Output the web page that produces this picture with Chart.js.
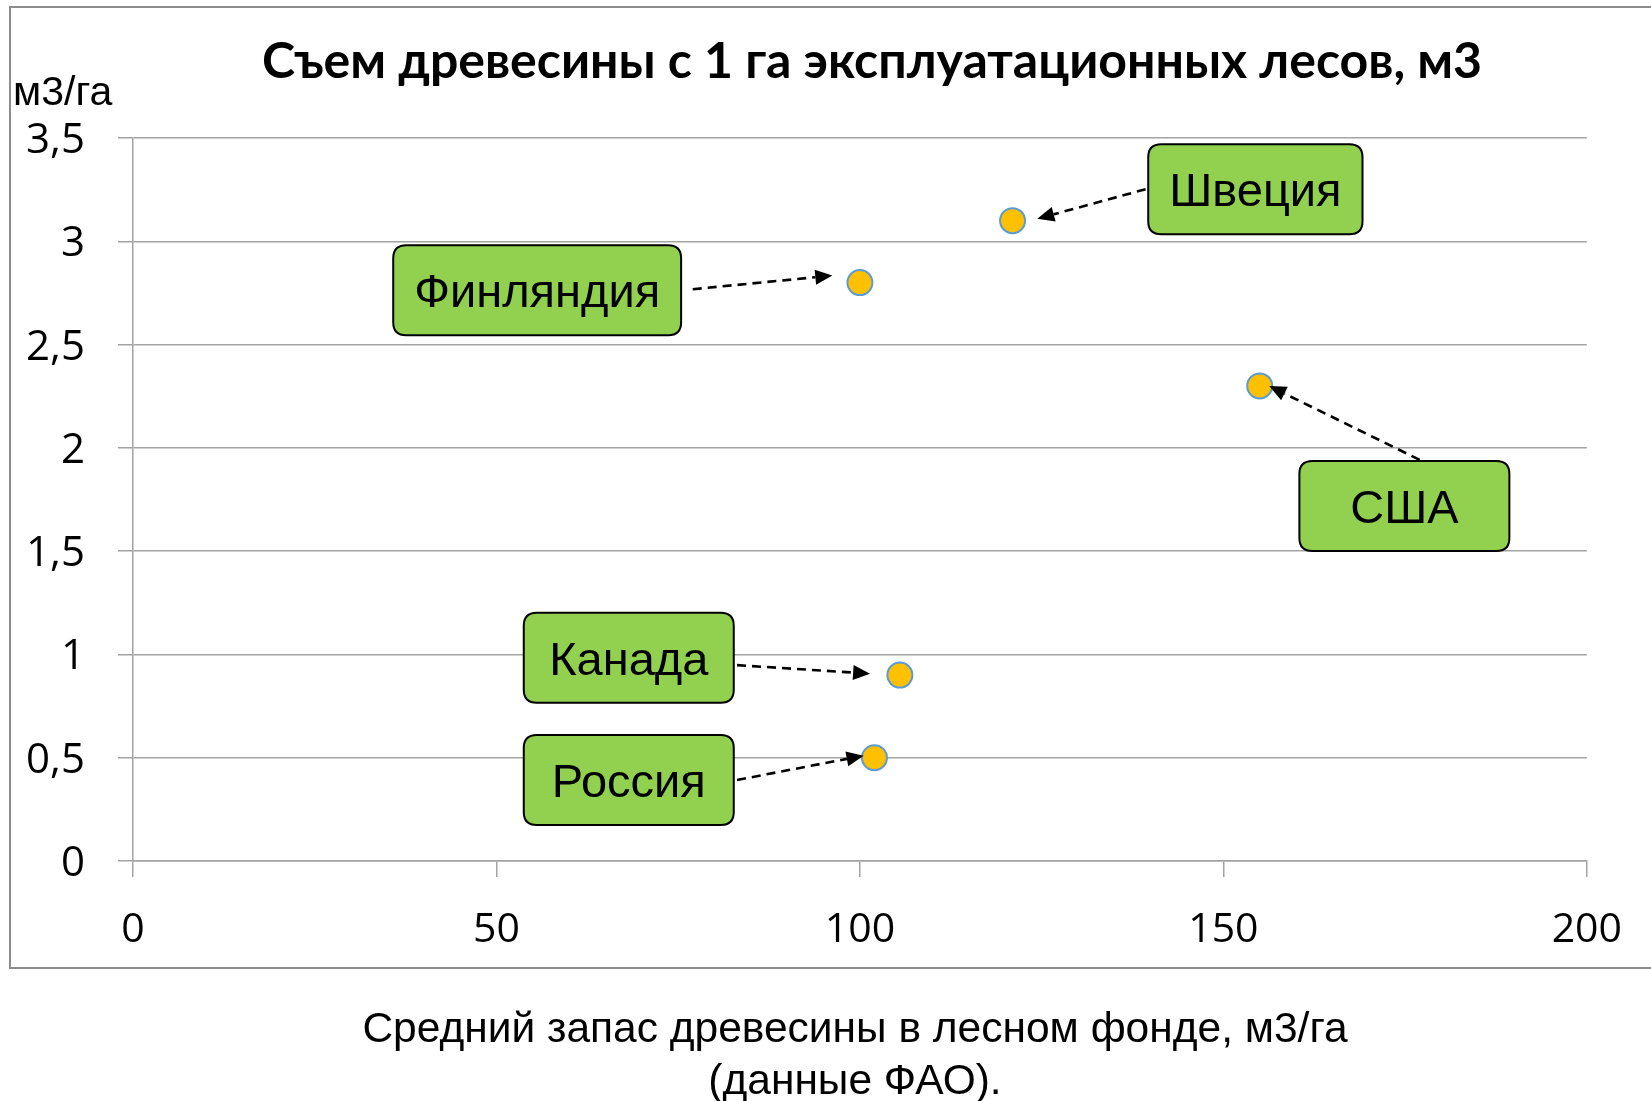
<!DOCTYPE html>
<html>
<head>
<meta charset="utf-8">
<script src="https://cdn.jsdelivr.net/npm/chart.js@4/dist/chart.umd.min.js"></script>
<style>
html,body{margin:0;padding:0;background:#fff;}
#wrap{width:1651px;height:1101px;position:relative;}
</style>
</head>
<body>
<div id="wrap"><canvas id="c" width="1651" height="1101"></canvas></div>
<script>
// ---- data ----
const countries = ['Швеция', 'Финляндия', 'США', 'Канада', 'Россия'];
const stockValues = [121, 100, 155, 105.5, 102];      // x: средний запас, м3/га
const harvestValues = [3.1, 2.8, 2.3, 0.9, 0.5];      // y: съем, м3/га
const xTicks = [0, 50, 100, 150, 200];
const xTickLabels = ['0', '50', '100', '150', '200'];
const yTicks = [0, 0.5, 1, 1.5, 2, 2.5, 3, 3.5];
const yTickLabels = ['0', '0,5', '1', '1,5', '2', '2,5', '3', '3,5'];
// callout boxes and arrows, in data units
const labelCenterX = [154.4, 55.6, 174.9, 68.2, 68.2];
const labelCenterY = [3.252, 2.763, 1.718, 0.984, 0.392];
const arrowStartX = [139.3, 77.0, 177.0, 83.1, 83.1];
const arrowStartY = [3.252, 2.768, 1.942, 0.948, 0.392];
const arrowTipX = [124.4, 96.2, 156.3, 101.4, 100.5];
const arrowTipY = [3.109, 2.834, 2.299, 0.907, 0.510];
const chartTitle = 'Съем древесины с 1 га эксплуатационных лесов, м3';
const yUnit = 'м3/га';
const xTitleLines = ['Средний запас древесины в лесном фонде, м3/га', '(данные ФАО).'];

function roundRect(ctx, x, y, w, h, r) {
  ctx.beginPath();
  ctx.moveTo(x + r, y);
  ctx.lineTo(x + w - r, y);
  ctx.quadraticCurveTo(x + w, y, x + w, y + r);
  ctx.lineTo(x + w, y + h - r);
  ctx.quadraticCurveTo(x + w, y + h, x + w - r, y + h);
  ctx.lineTo(x + r, y + h);
  ctx.quadraticCurveTo(x, y + h, x, y + h - r);
  ctx.lineTo(x, y + r);
  ctx.quadraticCurveTo(x, y, x + r, y);
  ctx.closePath();
}

const decor = {
  id: 'decor',
  beforeDraw(chart) {
    const ctx = chart.ctx;
    ctx.save();
    ctx.fillStyle = '#fff';
    ctx.fillRect(0, 0, chart.width, chart.height);
    ctx.strokeStyle = '#8c8c8c';
    ctx.lineWidth = 2;
    ctx.strokeRect(10, 7, 1700, 961);
    ctx.restore();
  },
  afterDatasetsDraw(chart) {
    const ctx = chart.ctx;
    const xs = chart.scales.x, ys = chart.scales.y;
    ctx.save();
    // arrows
    for (let i = 0; i < countries.length; i++) {
      const x1 = xs.getPixelForValue(arrowStartX[i]), y1 = ys.getPixelForValue(arrowStartY[i]);
      const x2 = xs.getPixelForValue(arrowTipX[i]), y2 = ys.getPixelForValue(arrowTipY[i]);
      const ang = Math.atan2(y2 - y1, x2 - x1);
      const head = 17, hw = 7.5;
      const bx = x2 - head * Math.cos(ang), by = y2 - head * Math.sin(ang);
      ctx.strokeStyle = '#000';
      ctx.lineWidth = 2.6;
      ctx.setLineDash([9, 6]);
      ctx.beginPath();
      ctx.moveTo(x1, y1);
      ctx.lineTo(bx, by);
      ctx.stroke();
      ctx.setLineDash([]);
      ctx.fillStyle = '#000';
      ctx.beginPath();
      ctx.moveTo(x2, y2);
      ctx.lineTo(bx + hw * Math.sin(ang), by - hw * Math.cos(ang));
      ctx.lineTo(bx - hw * Math.sin(ang), by + hw * Math.cos(ang));
      ctx.closePath();
      ctx.fill();
    }
    // callout boxes
    ctx.font = '47px "Liberation Sans", Arial, sans-serif';
    ctx.textAlign = 'center';
    ctx.textBaseline = 'alphabetic';
    for (let i = 0; i < countries.length; i++) {
      const cx = xs.getPixelForValue(labelCenterX[i]), cy = ys.getPixelForValue(labelCenterY[i]);
      const tw = ctx.measureText(countries[i]).width;
      const w = Math.max(210, tw + 42), h = 90;
      roundRect(ctx, cx - w / 2, cy - h / 2, w, h, 13);
      ctx.fillStyle = '#92D050';
      ctx.fill();
      ctx.strokeStyle = '#000';
      ctx.lineWidth = 2;
      ctx.stroke();
      ctx.fillStyle = '#000';
      ctx.fillText(countries[i], cx, cy + 17);
    }
    ctx.restore();
  },
  afterDraw(chart) {
    const ctx = chart.ctx;
    ctx.save();
    ctx.fillStyle = '#000';
    ctx.textBaseline = 'alphabetic';
    ctx.textAlign = 'center';
    ctx.font = 'bold 50px Lato, "Open Sans", sans-serif';
    ctx.fillText(chartTitle, 872, 78);
    ctx.textAlign = 'left';
    ctx.font = '41px "Liberation Sans", Arial, sans-serif';
    ctx.fillText(yUnit, 13, 105);
    ctx.textAlign = 'center';
    ctx.font = '42.5px "Liberation Sans", Arial, sans-serif';
    ctx.fillText(xTitleLines[0], 855, 1042);
    ctx.fillText(xTitleLines[1], 855, 1094);
    ctx.restore();
  }
};

const gridColor = '#a3a3a3';
new Chart(document.getElementById('c'), {
  type: 'scatter',
  data: {
    datasets: [{
      data: stockValues.map((x, i) => ({ x: x, y: harvestValues[i] })),
      pointRadius: 12.5,
      pointHoverRadius: 12.5,
      pointBackgroundColor: '#FFC000',
      pointBorderColor: '#5B9BD5',
      pointBorderWidth: 2
    }]
  },
  options: {
    responsive: false,
    animation: false,
    devicePixelRatio: 1,
    events: [],
    layout: { padding: { top: 138, right: 64, left: 0, bottom: 0 } },
    plugins: { legend: { display: false }, tooltip: { enabled: false }, title: { display: false } },
    scales: {
      x: {
        type: 'linear', min: 0, max: 200,
        afterBuildTicks: s => { s.ticks = xTicks.map(v => ({ value: v })); },
        afterFit: s => { s.height = 240; },
        ticks: {
          color: '#000', padding: 29, maxRotation: 0,
          font: { family: '"Open Sans"', size: 41 },
          callback: v => xTickLabels[xTicks.indexOf(v)]
        },
        grid: { drawOnChartArea: false, drawTicks: true, tickLength: 16, color: gridColor, lineWidth: 1.5 },
        border: { display: true, color: gridColor, width: 1.5 }
      },
      y: {
        type: 'linear', min: 0, max: 3.5,
        afterBuildTicks: s => { s.ticks = yTicks.map(v => ({ value: v })); },
        afterFit: s => { s.width = 133; },
        ticks: {
          color: '#000', padding: 33, labelOffset: 3,
          font: { family: '"Open Sans"', size: 42 },
          callback: v => yTickLabels[yTicks.indexOf(v)]
        },
        grid: { drawOnChartArea: true, drawTicks: true, tickLength: 15, color: gridColor, lineWidth: 1.5 },
        border: { display: true, color: gridColor, width: 1.5 }
      }
    }
  },
  plugins: [decor]
});
</script>
</body>
</html>
